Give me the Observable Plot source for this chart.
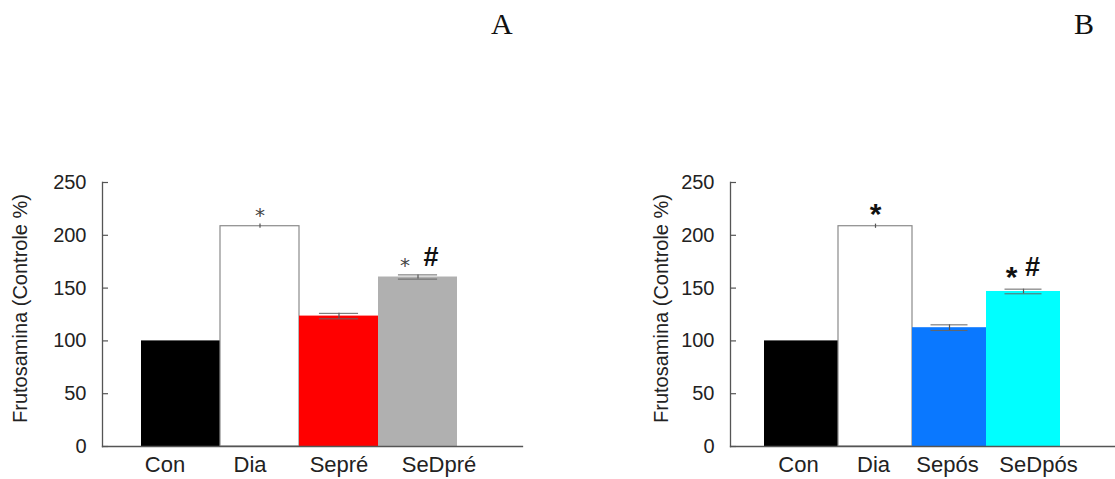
<!DOCTYPE html>
<html>
<head>
<meta charset="utf-8">
<script src="https://cdn.jsdelivr.net/npm/d3@7"></script>
<script src="https://cdn.jsdelivr.net/npm/@observablehq/plot@0.6"></script>
<style>
  html, body { margin: 0; padding: 0; background: #fff; }
  #wrap { position: relative; width: 1115px; height: 479px; overflow: hidden; font-family: "Liberation Sans", Arial, sans-serif; }
  .panel { position: absolute; top: 0; }
  .letter { position: absolute; font-family: "Liberation Serif", "Times New Roman", serif; font-size: 30px; color: #111; line-height: 1; }
</style>
</head>
<body>
<div id="wrap">
  <div class="letter" style="left:491px; top:9px;">A</div>
  <div class="letter" style="left:1074px; top:9px;">B</div>
  <div id="pA" class="panel" style="left:0px;"></div>
  <div id="pB" class="panel" style="left:557px;"></div>
</div>
<script>
// ---- data ----
const yTicks = [0, 50, 100, 150, 200, 250];
const yLabel = "Frutosamina (Controle %)";

const catsA   = ["Con", "Dia", "Sepré", "SeDpré"];
const valuesA = [100, 208.6, 123.5, 160.5];
const errA    = [0, 2, 2.6, 2];
const starA   = ["", "*", "", "*"];
const hashA   = ["", "", "", "#"];
const colorsA = ["#000000", "#ffffff", "#ff0000", "#b0b0b0"];

const catsB   = ["Con", "Dia", "Sepós", "SeDpós"];
const valuesB = [100, 208.6, 112.5, 146.8];
const errB    = [0, 2, 2.7, 2.2];
const starB   = ["", "*", "", "*"];
const hashB   = ["", "", "", "#"];
const colorsB = ["#000000", "#ffffff", "#0a78ff", "#00ffff"];

function panel({cats, values, errs, stars, hashes, colors, width, marginLeft, marginRight, xRange, labelShift, starStyle, ylabX}) {
  const rows = cats.map((c, i) => ({cat: c, v: values[i], e: errs[i], star: stars[i], hash: hashes[i], color: colors[i], i}));
  const frameW = width - marginLeft - marginRight;
  const bw = (xRange[1] - xRange[0]) / cats.length;
  const marks = [
    Plot.barY(rows, {x: "cat", y: "v", fill: "color",
      stroke: d => d.cat === "Dia" ? "#8a8a8a" : "none", strokeWidth: 1.2}),
    Plot.ruleX(rows.filter(d => d.e > 0), {x: "cat", y1: d => d.v - d.e, y2: d => d.v + d.e, stroke: "#555", strokeWidth: 1.2}),
    Plot.tickY(rows.filter(d => d.i >= 2), {x: "cat", y: d => d.v + d.e, stroke: "#666", strokeWidth: 1, insetLeft: bw / 4, insetRight: bw / 4}),
    Plot.tickY(rows.filter(d => d.i >= 2), {x: "cat", y: d => d.v - d.e, stroke: "#666", strokeWidth: 1, insetLeft: bw / 4, insetRight: bw / 4}),
    // frame lines
    Plot.frame({anchor: "left", stroke: "#555", strokeWidth: 1.3}),
    Plot.frame({anchor: "bottom", stroke: "#555", strokeWidth: 1.3}),
    // inward y ticks
    Plot.ruleY(yTicks, {stroke: "#555", strokeWidth: 1.2, insetRight: frameW - 6}),
    Plot.axisY({ticks: yTicks, tickSize: 0, tickPadding: 16, fontSize: 20, fill: "#222", label: null}),
    Plot.text([yLabel], {frameAnchor: "left", dx: ylabX - marginLeft, dy: -6, rotate: -90, textAnchor: "middle", fontSize: 20, fill: "#222", text: d => d}),
    // x labels
    ...rows.map(d => Plot.text([d], {x: "cat", y: 0, text: "cat", dy: 25, dx: labelShift[d.i], fontSize: 22, fill: "#222", lineAnchor: "bottom"})),
    // significance marks
    Plot.text(rows.filter(d => d.star && !d.hash), {x: "cat", y: "v", text: "star", dy: starStyle.dy1, fontSize: starStyle.size, fontWeight: starStyle.weight, fill: starStyle.fill, fontFamily: starStyle.family}),
    Plot.text(rows.filter(d => d.star && d.hash), {x: "cat", y: "v", text: "star", dy: starStyle.dy2, dx: starStyle.dxStar, fontSize: starStyle.size, fontWeight: starStyle.weight, fill: starStyle.fill, fontFamily: starStyle.family}),
    Plot.text(rows.filter(d => d.hash), {x: "cat", y: "v", text: "hash", dy: starStyle.dyHash, dx: starStyle.dxHash, fontSize: starStyle.hashSize, fontWeight: "bold", fill: "#111"})
  ];
  return Plot.plot({
    width, height: 479,
    marginTop: 182, marginBottom: 33, marginLeft, marginRight,
    style: {fontFamily: "'Liberation Sans', Arial, sans-serif", background: "transparent"},
    x: {domain: cats, range: xRange, padding: 0, axis: null},
    y: {domain: [0, 250], axis: null},
    marks
  });
}

document.getElementById("pA").appendChild(panel({
  cats: catsA, values: valuesA, errs: errA, stars: starA, hashes: hashA, colors: colorsA,
  width: 557, marginLeft: 102, marginRight: 35, xRange: [139, 458],
  labelShift: [-16, -10, 0, 21], ylabX: 20,
  starStyle: {size: 20, weight: "normal", fill: "#444", family: "'DejaVu Sans', sans-serif", dy1: -11, dy2: -11, dxStar: -13, dyHash: -20, dxHash: 13, hashSize: 27}
}));
document.getElementById("pB").appendChild(panel({
  cats: catsB, values: valuesB, errs: errB, stars: starB, hashes: hashB, colors: colorsB,
  width: 558, marginLeft: 173, marginRight: 0, xRange: [207, 503],
  labelShift: [-3, -2, -2, 15], ylabX: 104,
  starStyle: {size: 30, weight: "bold", fill: "#111", family: "'Liberation Sans', sans-serif", dy1: -12, dy2: -14, dxStar: -12, dyHash: -24, dxHash: 9, hashSize: 27}
}));
</script>
</body>
</html>
